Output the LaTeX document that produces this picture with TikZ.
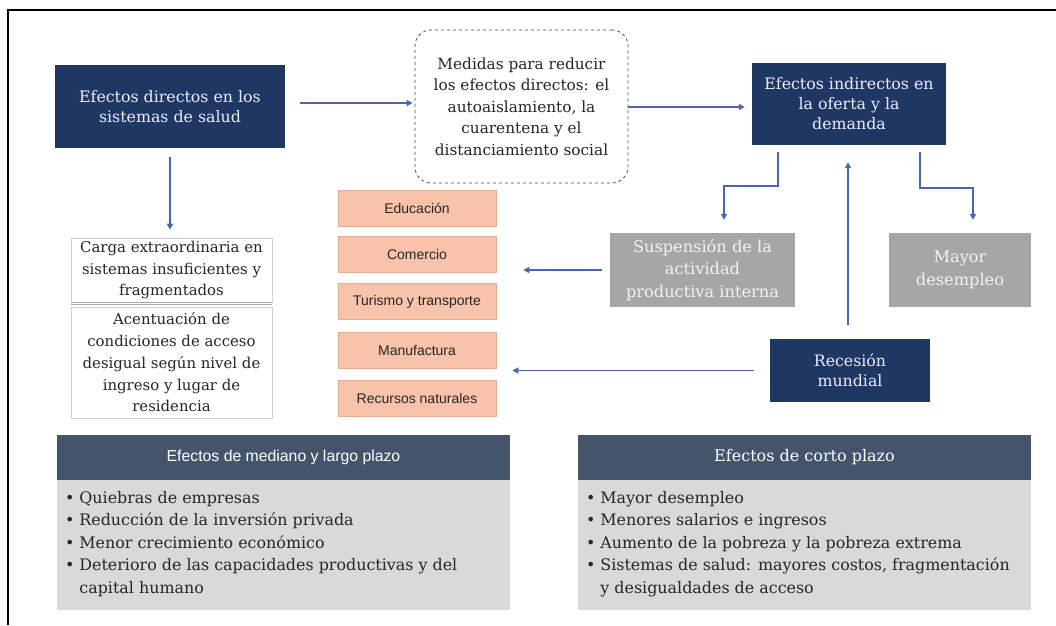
\documentclass[tikz,border=0pt]{standalone}
\usepackage{fontspec}
\setmainfont{DejaVu Serif}
\newfontfamily\sansf{Liberation Sans}
\usetikzlibrary{arrows.meta,calc}
\definecolor{navy}{HTML}{1F3763}
\definecolor{slate}{HTML}{44546A}
\definecolor{panelgray}{HTML}{D9D9D9}
\definecolor{boxgray}{HTML}{A6A6A6}
\definecolor{salmon}{HTML}{F7C3AA}
\definecolor{salmonedge}{HTML}{EAAA8E}
\definecolor{arrowblue}{HTML}{4A66B0}
\definecolor{lightedge}{HTML}{D0D0D0}
\definecolor{txtdark}{HTML}{262626}
\tikzset{
  navybox/.style={fill=navy, text=white!92!blue, align=center, inner sep=0pt, font=\fontsize{15.8}{20}\selectfont},
  graybox/.style={fill=boxgray, text=white!95!black, align=center, inner sep=0pt, font=\fontsize{16.2}{22.5}\selectfont},
  whitebox/.style={fill=white, draw=lightedge, line width=0.6pt, text=txtdark, align=center, inner sep=0pt, font=\fontsize{14.9}{21.7}\selectfont},
  sectorbox/.style={fill=salmon, draw=salmonedge, line width=0.5pt, minimum width=158pt, minimum height=36pt, inner sep=0pt, font=\sansf\fontsize{14}{15}\selectfont, text=txtdark},
  headbox/.style={fill=slate, text=white, inner sep=0pt, minimum width=453pt, minimum height=45pt},
  bodybox/.style={fill=panelgray, inner sep=0pt, minimum width=453pt, minimum height=130pt},
  bullets/.style={align=left, inner sep=0pt, text=txtdark, font=\fontsize{15.9}{22.5}\selectfont},
  arr/.style={draw=arrowblue, line width=1.8pt, -{Triangle[length=6pt,width=6pt]}},
}
\begin{document}
\begin{tikzpicture}[x=1pt,y=-1pt]
\useasboundingbox (0,0) rectangle (1056,625);
\fill[white] (0,0) rectangle (1056,625);
\draw[line width=2pt] (8,625) -- (8,10) -- (1056,10);

% top row
\node[navybox, minimum width=230pt, minimum height=83pt] (dir) at (170,106.5) {Efectos directos en los\\sistemas de salud};
\node[draw=black!70, dashed, rounded corners=16pt, line width=0.8pt, minimum width=213pt, minimum height=153pt, align=center, inner sep=0pt, text=txtdark, font=\fontsize{15.3}{21.5}\selectfont] (med) at (521.5,106.5) {Medidas para reducir\\los efectos directos: el\\autoaislamiento, la\\cuarentena y el\\distanciamiento social};
\node[navybox, minimum width=194pt, minimum height=82pt] (ind) at (849,104) {Efectos indirectos en\\la oferta y la\\demanda};

% left column
\node[whitebox, minimum width=201pt, minimum height=64pt] (carga) at (171.5,270) {Carga extraordinaria en\\sistemas insuficientes y\\fragmentados};
\node[whitebox, minimum width=201pt, minimum height=111pt] (acen) at (171.5,362.5) {Acentuación de\\condiciones de acceso\\desigual según nivel de\\ingreso y lugar de\\residencia};
\draw[lightedge!80!black, line width=0.8pt] (carga.south west) -- (carga.south east);
\draw[lightedge!80!black, line width=0.8pt] ($(acen.north west)+(0,-2.5)$) -- ($(acen.north east)+(0,-2.5)$);

% sectors
\node[sectorbox] (edu) at (417,208) {Educación};
\node[sectorbox] (com) at (417,254) {Comercio};
\node[sectorbox] (tur) at (417,301.5) {Turismo y transporte};
\node[sectorbox] (man) at (417,350) {Manufactura};
\node[sectorbox] (rec2) at (417,398) {Recursos naturales};

% gray boxes
\node[graybox, minimum width=185pt, minimum height=74pt] (susp) at (702.5,270) {Suspensión de la\\actividad\\productiva interna};
\node[graybox, minimum width=142pt, minimum height=74pt] (mayor) at (960,270) {Mayor\\desempleo};
\node[navybox, minimum width=160pt, minimum height=63pt] (rec) at (850,370.5) {Recesión\\mundial};

% panels
\node[headbox, font=\sansf\fontsize{15.8}{18}\selectfont] (lh) at (283.5,457.5) {Efectos de mediano y largo plazo};
\node[bodybox, anchor=north] (lb) at (lh.south) {};
\node[bullets, anchor=north west] (lt) at ($(lb.north west)+(8,11)$) {• Quiebras de empresas\\• Reducción de la inversión privada\\• Menor crecimiento económico\\• Deterioro de las capacidades productivas y del\\\hphantom{• }capital humano};

\node[headbox, font=\fontsize{16}{20}\selectfont] (rh) at (804.5,457.5) {Efectos de corto plazo};
\node[bodybox, anchor=north] (rb) at (rh.south) {};
\node[bullets, anchor=north west] (rt) at ($(rb.north west)+(8,11)$) {• Mayor desempleo\\• Menores salarios e ingresos\\• Aumento de la pobreza y la pobreza extrema\\• Sistemas de salud: mayores costos, fragmentación\\\hphantom{• }y desigualdades de acceso};

% connectors
\draw[arr] ($(dir.east)+(15,-3.5)$) -- ($(med.west)+(-2,-3.5)$);
\draw[arr] ($(med.east)+(0,0.5)$) -- ($(ind.west |- med.east)+(-7,0.5)$);
\draw[arr] ($(dir.south)+(0,9)$) -- ($(carga.north)+(-1.5,-8)$);
\coordinate (e1) at ($(susp.north)+(21.5,-13)$);
\draw[arr] ($(ind.south west)+(26,7)$) -- ++(0,34) -| (e1);
\coordinate (e2) at ($(mayor.north)+(13,-13)$);
\draw[arr] ($(ind.south east)+(-26,7)$) -- ++(0,36) -| (e2);
\draw[arr] ($(rec.north)+(-2,-14)$) -- ($(ind.south)+(-1,17)$);
\draw[arr] ($(rec.west)+(-16,0)$) -- ($(man.east |- rec.west)+(16,0)$);
\draw[arr] ($(susp.west)+(-8,0)$) -- ($(com.east |- susp.west)+(27,0)$);
\end{tikzpicture}
\end{document}
